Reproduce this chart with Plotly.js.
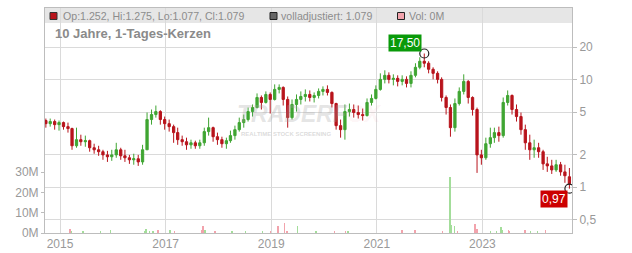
<!DOCTYPE html>
<html><head><meta charset="utf-8">
<script src="https://cdn.plot.ly/plotly-3.0.1.min.js"></script>
<style>html,body{margin:0;padding:0;background:#fff}</style>
</head><body><div id="chart" style="width:632px;height:253px"></div>
<script>
const dates = [
"2014-09-25","2014-10-25","2014-11-25","2014-12-25",
"2015-01-25","2015-02-25","2015-03-25","2015-04-25","2015-05-25","2015-06-25","2015-07-25","2015-08-25","2015-09-25","2015-10-25","2015-11-25","2015-12-25",
"2016-01-25","2016-02-25","2016-03-25","2016-04-25","2016-05-25","2016-06-25","2016-07-25","2016-08-25","2016-09-25","2016-10-25","2016-11-25","2016-12-25",
"2017-01-25","2017-02-25","2017-03-25","2017-04-25","2017-05-25","2017-06-25","2017-07-25","2017-08-25","2017-09-25","2017-10-25","2017-11-25","2017-12-25",
"2018-01-25","2018-02-25","2018-03-25","2018-04-25","2018-05-25","2018-06-25","2018-07-25","2018-08-25","2018-09-25","2018-10-25","2018-11-25","2018-12-25",
"2019-01-25","2019-02-25","2019-03-25","2019-04-25","2019-05-25","2019-06-25","2019-07-25","2019-08-25","2019-09-25","2019-10-25","2019-11-25","2019-12-25",
"2020-01-25","2020-02-25","2020-03-25","2020-04-25","2020-05-25","2020-06-25","2020-07-25","2020-08-25","2020-09-25","2020-10-25","2020-11-25","2020-12-25",
"2021-01-25","2021-02-25","2021-03-25","2021-04-25","2021-05-25","2021-06-25","2021-07-25","2021-08-25","2021-09-25","2021-10-25","2021-11-25","2021-12-25",
"2022-01-25","2022-02-25","2022-03-25","2022-04-25","2022-05-25","2022-06-25","2022-07-25","2022-08-25","2022-09-25","2022-10-25","2022-11-25","2022-12-25",
"2023-01-25","2023-02-25","2023-03-25","2023-04-25","2023-05-25","2023-06-25","2023-07-25","2023-08-25","2023-09-25","2023-10-25","2023-11-25","2023-12-25",
"2024-01-25","2024-02-25","2024-03-25","2024-04-25","2024-05-25","2024-06-25","2024-07-25","2024-08-25"];

const openP = [4.17,3.90,4.08,3.82, 3.99,3.66,3.51,2.43,2.77,2.65,2.71,2.33,2.23,2.14,2.00,1.92,
2.00,2.23,1.96,1.88,1.80,1.84,1.72,2.23,4.26,4.74,5.05,4.26,
3.90,3.66,3.22,2.77,2.65,2.48,2.59,2.43,2.59,3.29,3.58,2.95,
2.77,2.54,2.71,3.02,3.43,3.99,4.26,5.05,5.51,6.83,6.14,7.29,
6.55,8.12,8.47,6.55,4.44,5.88,6.55,6.98,7.29,6.83,7.13,7.78,
8.12,7.61,6.00,3.74,3.43,5.05,5.28,4.95,4.74,4.64,6.14,6.69,
8.12,10.06,10.97,10.06,10.28,9.64,10.06,9.23,10.97,13.03,14.83,14.21,
12.49,11.45,10.06,6.83,5.51,3.58,6.00,7.78,9.64,6.83,5.28,2.00,
1.88,2.54,2.89,3.22,3.02,6.14,7.13,5.28,4.54,3.43,2.59,2.23,
2.33,2.14,1.65,1.58,1.45,1.62,1.39,1.252];

const highP = [4.35,4.35,4.26,4.17, 4.08,3.99,3.58,3.58,3.08,3.02,2.77,2.54,2.43,2.23,2.18,2.23,
2.59,2.33,2.23,2.00,2.05,2.00,2.48,4.95,5.28,5.75,5.20,4.54,
4.26,3.82,3.58,3.02,2.89,2.77,2.71,2.77,3.58,4.44,3.66,3.22,
2.95,2.89,3.36,3.74,4.44,4.74,5.51,5.88,7.45,7.13,7.78,7.61,
9.04,9.04,8.66,6.98,6.55,7.29,7.78,8.12,7.94,7.61,8.29,8.66,
8.85,7.78,6.10,4.26,5.88,6.00,5.88,5.75,5.39,6.69,7.29,8.85,
11.45,12.22,11.70,11.21,10.97,10.97,10.74,11.96,14.21,16.16,17.50,14.83,
13.03,11.96,10.51,7.13,5.88,6.69,8.47,11.21,9.90,7.00,5.50,2.23,
2.89,3.58,3.58,3.66,6.83,7.94,7.29,5.88,4.95,3.82,3.08,2.77,
2.59,2.23,1.92,1.80,1.80,1.72,1.62,1.51];

const lowP = [3.58,3.66,3.43,3.36, 3.43,3.22,2.23,2.33,2.43,2.38,2.14,2.05,1.96,1.80,1.72,1.76,
1.88,1.80,1.72,1.65,1.62,1.58,1.62,2.23,3.82,4.44,3.82,3.43,
3.29,2.59,2.48,2.43,2.23,2.28,2.28,2.28,2.43,3.02,2.65,2.48,
2.33,2.28,2.59,2.77,3.29,3.58,4.08,4.54,5.40,5.28,6.00,4.84,
6.40,7.45,5.75,3.58,4.26,5.05,5.88,6.27,6.27,6.14,6.69,7.13,
7.13,5.51,3.43,2.89,2.77,4.54,4.44,4.35,4.17,4.54,5.75,6.55,
7.90,9.23,9.23,8.85,8.66,8.85,8.47,8.47,10.51,12.49,13.03,11.45,
10.06,9.23,6.27,4.74,2.95,3.29,5.75,7.29,6.00,4.64,1.36,1.62,
1.80,2.33,2.59,2.65,2.89,5.75,4.74,4.08,3.08,2.23,1.80,1.88,
1.88,1.45,1.39,1.33,1.39,1.28,1.10,0.97];

const closeP = [3.90,4.08,3.82,3.99, 3.66,3.51,2.43,2.77,2.65,2.71,2.33,2.23,2.14,2.00,1.92,2.00,
2.23,1.96,1.88,1.80,1.84,1.72,2.23,4.26,4.74,5.05,4.26,3.90,
3.66,3.22,2.77,2.65,2.48,2.59,2.43,2.59,3.29,3.58,2.95,2.77,
2.54,2.71,3.02,3.43,3.99,4.26,5.05,5.51,6.83,6.14,7.29,6.55,
8.12,8.47,6.55,4.44,5.88,6.55,6.98,7.29,6.83,7.13,7.78,8.12,
7.61,6.00,3.74,3.43,5.05,5.28,4.95,4.74,4.64,6.14,6.69,8.12,
10.06,10.97,10.06,10.28,9.64,10.06,9.23,10.97,13.03,14.83,14.21,12.49,
11.45,10.06,6.83,5.51,3.58,6.00,7.78,9.64,6.83,5.28,2.00,1.88,
2.54,2.89,3.22,3.02,6.14,7.13,5.28,4.54,3.43,2.59,2.23,2.33,
2.14,1.65,1.58,1.45,1.62,1.39,1.28,1.079];

const volUpDates = ["2015-03-20","2015-06-09","2015-10-05","2015-12-13","2016-08-05","2016-08-18","2016-09-10","2016-10-05","2017-01-31","2017-09-30","2018-04-05","2018-07-04","2018-10-30","2019-06-29","2019-11-07","2020-06-15","2022-05-22","2022-05-29","2022-06-19","2023-02-23","2023-04-10","2023-05-10","2023-05-20","2023-12-01","2024-01-15"];
const volUp = [0.8e6,1.1e6,1.0e6,1.6e6,1.2e6,2.0e6,1.0e6,1.2e6,1.5e6,1.5e6,0.8e6,1.0e6,0.8e6,3.6e6,0.8e6,0.8e6,27.7e6,4.0e6,3.4e6,1.0e6,1.0e6,3.0e6,1.5e6,1.0e6,0.8e6];
const volDownDates = ["2015-03-11","2016-11-09","2017-03-01","2017-09-05","2017-09-16","2017-12-08","2018-12-24","2019-02-17","2019-03-31","2019-04-20","2020-03-15","2020-05-26","2021-06-24","2021-09-22","2022-03-28","2022-07-10","2022-11-11","2022-11-25","2023-06-28","2023-07-10","2023-10-23","2024-03-10"];
const volDown = [2.0e6,1.5e6,0.8e6,1.5e6,3.4e6,0.8e6,1.0e6,3.6e6,5.1e6,1.2e6,0.8e6,0.8e6,1.5e6,1.4e6,1.0e6,0.8e6,4.3e6,2.0e6,1.5e6,1.2e6,1.5e6,1.5e6];

const priceTickVals = [0.5,1,2,5,10,20];
const priceTickText = ["0,5","1","2","5","10","20"];
const volTickVals = [0,10e6,20e6,30e6];
const volTickText = ["0M","10M","20M","30M"];
const headerOHLC = "Op:1.252, Hi:1.275, Lo:1.077, Cl:1.079";
const headerAdj = "volladjustiert: 1.079";
const headerVol = "Vol: 0M";
const chartTitle = "10 Jahre, 1-Tages-Kerzen";

// extremes from data
let iMax = 0, iMin = 0;
for (let i = 0; i < highP.length; i++) { if (highP[i] > highP[iMax]) iMax = i; if (lowP[i] < lowP[iMin]) iMin = i; }
const fmt = v => v.toFixed(2).replace('.', ',');

const FONT = 'Liberation Sans, Arial, sans-serif';
const traces = [
  {type:'bar', x:volUpDates, y:volUp, yaxis:'y', marker:{color:'#a3dd9a', line:{width:0}}, width:6.5e8, hoverinfo:'skip'},
  {type:'bar', x:volDownDates, y:volDown, yaxis:'y', marker:{color:'#f2a3ac', line:{width:0}}, width:6.5e8, hoverinfo:'skip'},
  {type:'candlestick', x:dates, open:openP, high:highP, low:lowP, close:closeP, yaxis:'y2',
   increasing:{line:{color:'#3fa532', width:1}, fillcolor:'#3fa532'},
   decreasing:{line:{color:'#b8141c', width:1}, fillcolor:'#b8141c'},
   whiskerwidth:0, hoverinfo:'skip'},
  {type:'scatter', mode:'markers', x:[dates[iMax], dates[iMin]], y:[highP[iMax], lowP[iMin]], yaxis:'y2',
   marker:{symbol:'circle-open', size:9, color:'#222', line:{width:1.2, color:'#222'}}, hoverinfo:'skip'}
];

const px2x = p => (p - 45) / 527;
const px2y = p => (233 - p) / 225;
const sq = (x0, color, border) => ({type:'rect', xref:'paper', yref:'paper', x0:px2x(x0), x1:px2x(x0+7), y0:px2y(19.5), y1:px2y(12.5), fillcolor:color, line:{color:border, width:1}, layer:'above'});

const layout = {
  width:632, height:253,
  margin:{l:45, r:60, t:8, b:20, pad:0},
  paper_bgcolor:'#fff', plot_bgcolor:'#fff',
  showlegend:false, boxgap:0.2, bargap:0,
  font:{family:FONT, color:'#999', size:12},
  xaxis:{type:'date', range:['2014-09-19','2024-09-12'], tick0:'2015-01-01', dtick:'M24', tickformat:'%Y',
    showgrid:true, gridcolor:'#dadada', gridwidth:1, showline:true, linecolor:'#bdbdbd', mirror:true,
    ticks:'', rangeslider:{visible:false}, fixedrange:true, tickfont:{size:12, color:'#999'}},
  yaxis:{range:[0, 110.8e6], tickvals:volTickVals, ticktext:volTickText, showgrid:false, zeroline:false,
    showline:true, linecolor:'#bdbdbd', ticks:'outside', ticklen:3, tickcolor:'#bdbdbd', side:'left', fixedrange:true,
    tickfont:{size:12, color:'#999'}},
  yaxis2:{overlaying:'y', side:'right', type:'log', range:[-0.425, 1.666], tickvals:priceTickVals, ticktext:priceTickText,
    showgrid:true, gridcolor:'#dadada', zeroline:false, showline:true, linecolor:'#bdbdbd', ticks:'outside', ticklen:4,
    tickcolor:'#bdbdbd', fixedrange:true, tickfont:{size:12, color:'#999'}},
  shapes:[
    {type:'rect', xref:'paper', yref:'paper', x0:0, x1:1, y0:px2y(23), y1:1, fillcolor:'#e6e6e6', line:{width:0}, layer:'below'},
    sq(50, '#b8141c', '#333'), sq(270, '#666666', '#222'), sq(397.5, '#f2a3ac', '#222')
  ],
  annotations:[
    {xref:'paper', yref:'paper', x:px2x(60.5), y:px2y(15.7), xanchor:'left', yanchor:'middle', showarrow:false, text:headerOHLC, font:{size:10.6, color:'#8c8c8c'}},
    {xref:'paper', yref:'paper', x:px2x(278.5), y:px2y(15.7), xanchor:'left', yanchor:'middle', showarrow:false, text:headerAdj, font:{size:10.6, color:'#8c8c8c'}},
    {xref:'paper', yref:'paper', x:px2x(406.5), y:px2y(15.7), xanchor:'left', yanchor:'middle', showarrow:false, text:headerVol, font:{size:10.6, color:'#8c8c8c'}},
    {xref:'paper', yref:'paper', x:px2x(52.5), y:px2y(33.5), xanchor:'left', yanchor:'middle', showarrow:false, text:'<b>'+chartTitle+'</b>', font:{size:13, color:'#8a8a8a'}},
    {xref:'paper', yref:'paper', x:px2x(309), y:px2y(114), xanchor:'center', yanchor:'middle', showarrow:false, borderpad:0,
      text:"<b><i>TRADERF<span style='color:rgba(235,120,135,0.28)'>OX</span></i></b>", font:{size:23, color:'rgba(165,165,165,0.3)'}},
    {xref:'paper', yref:'paper', x:px2x(286), y:px2y(134), xanchor:'center', yanchor:'middle', showarrow:false, borderpad:0,
      text:'<b>REALTIME STOCK SCREENING</b>', font:{size:6, color:'rgba(165,165,165,0.4)'}},
    {x:dates[iMax], y:Math.log10(highP[iMax]), xref:'x', yref:'y2', text:fmt(highP[iMax]), showarrow:true, arrowcolor:'rgba(0,0,0,0)', arrowwidth:0.1,
      ax:-19, ay:-10.6, bgcolor:'#0a9a0a', borderpad:1, font:{size:12, color:'#fff'}},
    {x:dates[iMin], y:Math.log10(lowP[iMin]), xref:'x', yref:'y2', text:fmt(lowP[iMin]), showarrow:true, arrowcolor:'rgba(0,0,0,0)', arrowwidth:0.1,
      ax:-15.3, ay:10, bgcolor:'#cc0000', borderpad:1, font:{size:12, color:'#fff'}}
  ]
};
Plotly.newPlot('chart', traces, layout, {staticPlot:true, displayModeBar:false});
</script></body></html>
